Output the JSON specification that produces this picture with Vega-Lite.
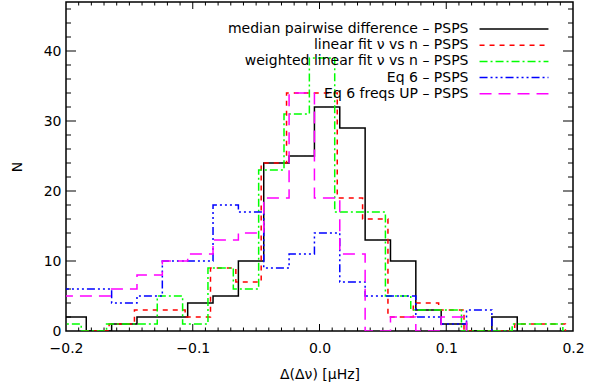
{
  "$schema": "https://vega.github.io/schema/vega-lite/v6.json",
  "width": 507,
  "height": 329,
  "autosize": "none",
  "padding": {"left": 66, "top": 2, "right": 25, "bottom": 54},
  "background": "white",
  "config": {
    "view": {"stroke": "black", "strokeWidth": 1.5},
    "font": "DejaVu Sans",
    "axis": {"domain": false, "grid": false, "labelColor": "black", "titleColor": "black"}
  },
  "datasets": {
    "xmajor": [{"v": -0.1}, {"v": 0}, {"v": 0.1}],
    "xminor": [{"v": -0.19},{"v": -0.18},{"v": -0.17},{"v": -0.16},{"v": -0.15},{"v": -0.14},{"v": -0.13},{"v": -0.12},{"v": -0.11},{"v": -0.09},{"v": -0.08},{"v": -0.07},{"v": -0.06},{"v": -0.05},{"v": -0.04},{"v": -0.03},{"v": -0.02},{"v": -0.01},{"v": 0.01},{"v": 0.02},{"v": 0.03},{"v": 0.04},{"v": 0.05},{"v": 0.06},{"v": 0.07},{"v": 0.08},{"v": 0.09},{"v": 0.11},{"v": 0.12},{"v": 0.13},{"v": 0.14},{"v": 0.15},{"v": 0.16},{"v": 0.17},{"v": 0.18},{"v": 0.19}],
    "ymajor": [{"v": 10}, {"v": 20}, {"v": 30}, {"v": 40}],
    "yminor": [{"v": 2},{"v": 4},{"v": 6},{"v": 8},{"v": 12},{"v": 14},{"v": 16},{"v": 18},{"v": 22},{"v": 24},{"v": 26},{"v": 28},{"v": 32},{"v": 34},{"v": 36},{"v": 38},{"v": 42},{"v": 44},{"v": 46}],
    "hist": [
    {"s": "median pairwise difference – PSPS", "x": -0.204, "n": 2},
    {"s": "median pairwise difference – PSPS", "x": -0.184, "n": 0},
    {"s": "median pairwise difference – PSPS", "x": -0.164, "n": 1},
    {"s": "median pairwise difference – PSPS", "x": -0.144, "n": 2},
    {"s": "median pairwise difference – PSPS", "x": -0.124, "n": 2},
    {"s": "median pairwise difference – PSPS", "x": -0.104, "n": 4},
    {"s": "median pairwise difference – PSPS", "x": -0.084, "n": 5},
    {"s": "median pairwise difference – PSPS", "x": -0.064, "n": 10},
    {"s": "median pairwise difference – PSPS", "x": -0.044, "n": 24},
    {"s": "median pairwise difference – PSPS", "x": -0.024, "n": 25},
    {"s": "median pairwise difference – PSPS", "x": -0.004, "n": 32},
    {"s": "median pairwise difference – PSPS", "x": 0.016, "n": 29},
    {"s": "median pairwise difference – PSPS", "x": 0.036, "n": 13},
    {"s": "median pairwise difference – PSPS", "x": 0.056, "n": 10},
    {"s": "median pairwise difference – PSPS", "x": 0.076, "n": 3},
    {"s": "median pairwise difference – PSPS", "x": 0.096, "n": 1},
    {"s": "median pairwise difference – PSPS", "x": 0.116, "n": 0},
    {"s": "median pairwise difference – PSPS", "x": 0.136, "n": 2},
    {"s": "median pairwise difference – PSPS", "x": 0.156, "n": 0},

    {"s": "linear fit ν vs n – PSPS", "x": -0.186, "n": 0},
    {"s": "linear fit ν vs n – PSPS", "x": -0.166, "n": 1},
    {"s": "linear fit ν vs n – PSPS", "x": -0.146, "n": 3},
    {"s": "linear fit ν vs n – PSPS", "x": -0.126, "n": 3},
    {"s": "linear fit ν vs n – PSPS", "x": -0.106, "n": 2},
    {"s": "linear fit ν vs n – PSPS", "x": -0.086, "n": 9},
    {"s": "linear fit ν vs n – PSPS", "x": -0.066, "n": 7},
    {"s": "linear fit ν vs n – PSPS", "x": -0.046, "n": 24},
    {"s": "linear fit ν vs n – PSPS", "x": -0.026, "n": 34},
    {"s": "linear fit ν vs n – PSPS", "x": -0.006, "n": 34},
    {"s": "linear fit ν vs n – PSPS", "x": 0.014, "n": 19},
    {"s": "linear fit ν vs n – PSPS", "x": 0.034, "n": 16},
    {"s": "linear fit ν vs n – PSPS", "x": 0.054, "n": 2},
    {"s": "linear fit ν vs n – PSPS", "x": 0.074, "n": 4},
    {"s": "linear fit ν vs n – PSPS", "x": 0.094, "n": 3},
    {"s": "linear fit ν vs n – PSPS", "x": 0.114, "n": 0},
    {"s": "linear fit ν vs n – PSPS", "x": 0.134, "n": 0},
    {"s": "linear fit ν vs n – PSPS", "x": 0.154, "n": 1},
    {"s": "linear fit ν vs n – PSPS", "x": 0.174, "n": 1},
    {"s": "linear fit ν vs n – PSPS", "x": 0.194, "n": 0},

    {"s": "weighted linear fit ν vs n – PSPS", "x": -0.208, "n": 1},
    {"s": "weighted linear fit ν vs n – PSPS", "x": -0.188, "n": 0},
    {"s": "weighted linear fit ν vs n – PSPS", "x": -0.168, "n": 1},
    {"s": "weighted linear fit ν vs n – PSPS", "x": -0.148, "n": 1},
    {"s": "weighted linear fit ν vs n – PSPS", "x": -0.128, "n": 5},
    {"s": "weighted linear fit ν vs n – PSPS", "x": -0.108, "n": 1},
    {"s": "weighted linear fit ν vs n – PSPS", "x": -0.088, "n": 9},
    {"s": "weighted linear fit ν vs n – PSPS", "x": -0.068, "n": 6},
    {"s": "weighted linear fit ν vs n – PSPS", "x": -0.048, "n": 23},
    {"s": "weighted linear fit ν vs n – PSPS", "x": -0.028, "n": 31},
    {"s": "weighted linear fit ν vs n – PSPS", "x": -0.008, "n": 39},
    {"s": "weighted linear fit ν vs n – PSPS", "x": 0.012, "n": 17},
    {"s": "weighted linear fit ν vs n – PSPS", "x": 0.032, "n": 17},
    {"s": "weighted linear fit ν vs n – PSPS", "x": 0.052, "n": 5},
    {"s": "weighted linear fit ν vs n – PSPS", "x": 0.072, "n": 3},
    {"s": "weighted linear fit ν vs n – PSPS", "x": 0.092, "n": 3},
    {"s": "weighted linear fit ν vs n – PSPS", "x": 0.112, "n": 0},
    {"s": "weighted linear fit ν vs n – PSPS", "x": 0.132, "n": 0},
    {"s": "weighted linear fit ν vs n – PSPS", "x": 0.152, "n": 1},
    {"s": "weighted linear fit ν vs n – PSPS", "x": 0.172, "n": 1},
    {"s": "weighted linear fit ν vs n – PSPS", "x": 0.192, "n": 0},

    {"s": "Eq 6 – PSPS", "x": -0.204, "n": 6},
    {"s": "Eq 6 – PSPS", "x": -0.184, "n": 6},
    {"s": "Eq 6 – PSPS", "x": -0.164, "n": 4},
    {"s": "Eq 6 – PSPS", "x": -0.144, "n": 5},
    {"s": "Eq 6 – PSPS", "x": -0.124, "n": 10},
    {"s": "Eq 6 – PSPS", "x": -0.104, "n": 10},
    {"s": "Eq 6 – PSPS", "x": -0.084, "n": 18},
    {"s": "Eq 6 – PSPS", "x": -0.064, "n": 17},
    {"s": "Eq 6 – PSPS", "x": -0.044, "n": 9},
    {"s": "Eq 6 – PSPS", "x": -0.024, "n": 11},
    {"s": "Eq 6 – PSPS", "x": -0.004, "n": 14},
    {"s": "Eq 6 – PSPS", "x": 0.016, "n": 7},
    {"s": "Eq 6 – PSPS", "x": 0.036, "n": 5},
    {"s": "Eq 6 – PSPS", "x": 0.056, "n": 5},
    {"s": "Eq 6 – PSPS", "x": 0.076, "n": 2},
    {"s": "Eq 6 – PSPS", "x": 0.096, "n": 1},
    {"s": "Eq 6 – PSPS", "x": 0.116, "n": 3},
    {"s": "Eq 6 – PSPS", "x": 0.136, "n": 0},

    {"s": "Eq 6 freqs UP – PSPS", "x": -0.204, "n": 5},
    {"s": "Eq 6 freqs UP – PSPS", "x": -0.184, "n": 5},
    {"s": "Eq 6 freqs UP – PSPS", "x": -0.164, "n": 6},
    {"s": "Eq 6 freqs UP – PSPS", "x": -0.144, "n": 8},
    {"s": "Eq 6 freqs UP – PSPS", "x": -0.124, "n": 10},
    {"s": "Eq 6 freqs UP – PSPS", "x": -0.104, "n": 11},
    {"s": "Eq 6 freqs UP – PSPS", "x": -0.084, "n": 13},
    {"s": "Eq 6 freqs UP – PSPS", "x": -0.064, "n": 14},
    {"s": "Eq 6 freqs UP – PSPS", "x": -0.044, "n": 19},
    {"s": "Eq 6 freqs UP – PSPS", "x": -0.024, "n": 34},
    {"s": "Eq 6 freqs UP – PSPS", "x": -0.004, "n": 19},
    {"s": "Eq 6 freqs UP – PSPS", "x": 0.016, "n": 11},
    {"s": "Eq 6 freqs UP – PSPS", "x": 0.036, "n": 0},
    {"s": "Eq 6 freqs UP – PSPS", "x": 0.056, "n": 2},
    {"s": "Eq 6 freqs UP – PSPS", "x": 0.076, "n": 0},
    {"s": "Eq 6 freqs UP – PSPS", "x": 0.096, "n": 2},
    {"s": "Eq 6 freqs UP – PSPS", "x": 0.116, "n": 0}
    ]
  },
  "layer": [
    {
      "data": {"name": "xmajor"},
      "mark": {"type": "tick", "orient": "vertical", "size": 14, "thickness": 1, "color": "black", "opacity": 1, "clip": true},
      "encoding": {
        "x": {"field": "v", "type": "quantitative", "scale": {"domain": [-0.2, 0.2], "nice": false, "zero": false}},
        "y": {"datum": 0, "type": "quantitative", "scale": {"domain": [0, 47], "nice": false}}
      }
    },
    {
      "data": {"name": "xmajor"},
      "mark": {"type": "tick", "orient": "vertical", "size": 14, "thickness": 1, "color": "black", "opacity": 1, "clip": true},
      "encoding": {
        "x": {"field": "v", "type": "quantitative", "scale": {"domain": [-0.2, 0.2], "nice": false, "zero": false}},
        "y": {"datum": 47, "type": "quantitative", "scale": {"domain": [0, 47], "nice": false}}
      }
    },
    {
      "data": {"name": "xminor"},
      "mark": {"type": "tick", "orient": "vertical", "size": 7, "thickness": 1, "color": "black", "opacity": 1, "clip": true},
      "encoding": {
        "x": {"field": "v", "type": "quantitative", "scale": {"domain": [-0.2, 0.2], "nice": false, "zero": false}},
        "y": {"datum": 0, "type": "quantitative", "scale": {"domain": [0, 47], "nice": false}}
      }
    },
    {
      "data": {"name": "xminor"},
      "mark": {"type": "tick", "orient": "vertical", "size": 7, "thickness": 1, "color": "black", "opacity": 1, "clip": true},
      "encoding": {
        "x": {"field": "v", "type": "quantitative", "scale": {"domain": [-0.2, 0.2], "nice": false, "zero": false}},
        "y": {"datum": 47, "type": "quantitative", "scale": {"domain": [0, 47], "nice": false}}
      }
    },
    {
      "data": {"name": "ymajor"},
      "mark": {"type": "tick", "orient": "horizontal", "size": 20, "thickness": 1, "color": "black", "opacity": 1, "clip": true},
      "encoding": {
        "y": {"field": "v", "type": "quantitative", "scale": {"domain": [0, 47], "nice": false}},
        "x": {"datum": -0.2, "type": "quantitative", "scale": {"domain": [-0.2, 0.2], "nice": false, "zero": false}}
      }
    },
    {
      "data": {"name": "ymajor"},
      "mark": {"type": "tick", "orient": "horizontal", "size": 20, "thickness": 1, "color": "black", "opacity": 1, "clip": true},
      "encoding": {
        "y": {"field": "v", "type": "quantitative", "scale": {"domain": [0, 47], "nice": false}},
        "x": {"datum": 0.2, "type": "quantitative", "scale": {"domain": [-0.2, 0.2], "nice": false, "zero": false}}
      }
    },
    {
      "data": {"name": "yminor"},
      "mark": {"type": "tick", "orient": "horizontal", "size": 10, "thickness": 1, "color": "black", "opacity": 1, "clip": true},
      "encoding": {
        "y": {"field": "v", "type": "quantitative", "scale": {"domain": [0, 47], "nice": false}},
        "x": {"datum": -0.2, "type": "quantitative", "scale": {"domain": [-0.2, 0.2], "nice": false, "zero": false}}
      }
    },
    {
      "data": {"name": "yminor"},
      "mark": {"type": "tick", "orient": "horizontal", "size": 10, "thickness": 1, "color": "black", "opacity": 1, "clip": true},
      "encoding": {
        "y": {"field": "v", "type": "quantitative", "scale": {"domain": [0, 47], "nice": false}},
        "x": {"datum": 0.2, "type": "quantitative", "scale": {"domain": [-0.2, 0.2], "nice": false, "zero": false}}
      }
    },
    {
      "data": {"name": "hist"},
      "mark": {"type": "line", "interpolate": "step-after", "strokeWidth": 1.5, "clip": true},
      "encoding": {
        "x": {
          "field": "x", "type": "quantitative",
          "scale": {"domain": [-0.2, 0.2], "nice": false, "zero": false},
          "axis": {"orient": "bottom", "values": [-0.2, -0.1, 0, 0.1, 0.2], "format": ".1f", "ticks": false,
                   "labelPadding": 10, "labelFontSize": 14, "labelFlush": false,
                   "title": "Δ(Δν) [μHz]", "titleFontSize": 14, "titleFontWeight": "normal", "titlePadding": 12}
        },
        "y": {
          "field": "n", "type": "quantitative",
          "scale": {"domain": [0, 47], "nice": false},
          "axis": {"orient": "left", "values": [0, 10, 20, 30, 40], "format": "d", "ticks": false,
                   "labelPadding": 5, "labelFontSize": 14,
                   "title": "N", "titleFontSize": 14, "titleFontWeight": "normal", "titlePadding": 19}
        },
        "color": {
          "field": "s", "type": "nominal",
          "scale": {
            "domain": ["median pairwise difference – PSPS", "linear fit ν vs n – PSPS", "weighted linear fit ν vs n – PSPS", "Eq 6 – PSPS", "Eq 6 freqs UP – PSPS"],
            "range": ["#000000", "#ff0000", "#00ff00", "#0000ff", "#ff00ff"]
          },
          "legend": {"orient": "none", "legendX": 440, "legendY": 19, "title": null, "symbolType": "M-5,0H5",
                     "symbolSize": 190, "symbolStrokeWidth": 1.5, "labelAlign": "right", "labelOffset": -53.5,
                     "labelLimit": 400, "labelFontSize": 14, "labelColor": "black", "rowPadding": 1.2, "padding": 0}
        },
        "strokeDash": {
          "field": "s", "type": "nominal",
          "scale": {
            "domain": ["median pairwise difference – PSPS", "linear fit ν vs n – PSPS", "weighted linear fit ν vs n – PSPS", "Eq 6 – PSPS", "Eq 6 freqs UP – PSPS"],
            "range": [[1, 0], [5, 5], [8, 3, 2, 3], [8, 3, 2, 3, 2, 3, 2, 3], [12, 7]]
          },
          "legend": {"orient": "none", "legendX": 440, "legendY": 19, "title": null, "symbolType": "M-5,0H5",
                     "symbolSize": 190, "symbolStrokeWidth": 1.5, "labelAlign": "right", "labelOffset": -53.5,
                     "labelLimit": 400, "labelFontSize": 14, "labelColor": "black", "rowPadding": 1.2, "padding": 0}
        }
      }
    }
  ]
}
